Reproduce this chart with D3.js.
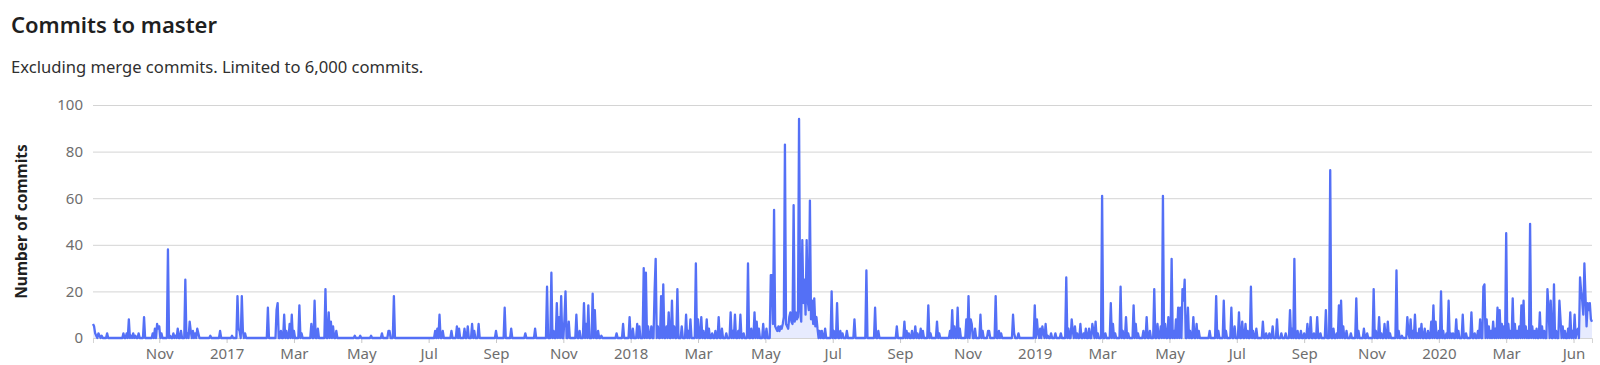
<!DOCTYPE html>
<html>
<head>
<meta charset="utf-8">
<script src="https://cdn.jsdelivr.net/npm/d3@7"></script>
<style>
  body { margin: 0; background: #fff; }
  svg { display: block; font-family: "Noto Sans", "Open Sans", sans-serif; }
</style>
</head>
<body>
<svg id="chart"></svg>
<script>
// daily commit counts; days not listed had no commits
const commits2016 = [
  ['2016-09-07',6],['2016-09-08',5],['2016-09-09',2],['2016-09-10',1],['2016-09-12',2],['2016-09-13',1],['2016-09-15',1],
  ['2016-09-20',2],['2016-10-05',2],['2016-10-08',2],['2016-10-10',8],['2016-10-12',1],['2016-10-14',2],['2016-10-16',1],
  ['2016-10-19',2],['2016-10-24',9],['2016-11-01',2],['2016-11-03',4],['2016-11-05',6],['2016-11-06',4],['2016-11-07',5],
  ['2016-11-09',2],['2016-11-15',38],['2016-11-17',1],['2016-11-20',2],['2016-11-22',1],['2016-11-24',4],['2016-11-27',3],
  ['2016-12-01',25],['2016-12-03',2],['2016-12-05',7],['2016-12-06',3],['2016-12-08',3],['2016-12-10',2],['2016-12-12',4],
  ['2016-12-13',2],['2016-12-24',1]
];
const commits2017 = [
  ['2017-01-02',3],['2017-01-13',1],['2017-01-18',18],['2017-01-19',4],['2017-01-20',3],['2017-01-22',18],['2017-01-23',3],
  ['2017-01-25',2],['2017-02-15',13],['2017-02-23',12],['2017-02-24',15],['2017-02-27',3],['2017-03-02',10],['2017-03-04',3],
  ['2017-03-07',6],['2017-03-09',10],['2017-03-11',3],['2017-03-16',14],['2017-03-18',2],['2017-03-27',6],['2017-03-30',16],
  ['2017-04-02',4],['2017-04-09',21],['2017-04-12',11],['2017-04-14',7],['2017-04-16',5],['2017-04-19',3],['2017-05-06',1],
  ['2017-05-11',1],['2017-05-21',1],['2017-05-31',2],['2017-06-06',3],['2017-06-07',3],['2017-06-11',18],['2017-07-19',3],
  ['2017-07-21',4],['2017-07-23',10],['2017-07-26',3],['2017-08-03',3],['2017-08-08',5],['2017-08-10',4],['2017-08-15',4],
  ['2017-08-18',5],['2017-08-22',6],['2017-08-24',3],['2017-08-28',6],['2017-09-13',3],['2017-09-21',13],['2017-09-27',4],
  ['2017-10-10',2],['2017-10-19',4],['2017-10-30',22],['2017-11-03',28],['2017-11-05',3],['2017-11-08',15],['2017-11-10',9],
  ['2017-11-12',18],['2017-11-15',8],['2017-11-16',20],['2017-11-19',7],['2017-11-26',10],['2017-11-29',3],['2017-12-03',15],
  ['2017-12-05',6],['2017-12-07',14],['2017-12-11',19],['2017-12-13',12],['2017-12-16',3],['2017-12-19',1]
];
const commits2018 = [
  ['2018-01-02',2],['2018-01-08',6],['2018-01-14',9],['2018-01-17',4],['2018-01-21',6],['2018-01-23',5],['2018-01-27',30],
  ['2018-01-29',28],['2018-01-31',5],['2018-02-03',5],['2018-02-06',20],['2018-02-07',34],['2018-02-09',5],['2018-02-12',18],
  ['2018-02-14',23],['2018-02-17',5],['2018-02-19',11],['2018-02-22',16],['2018-02-24',5],['2018-02-27',21],['2018-03-03',5],
  ['2018-03-07',10],['2018-03-09',3],['2018-03-11',8],['2018-03-16',32],['2018-03-18',8],['2018-03-21',9],['2018-03-23',3],
  ['2018-03-26',8],['2018-03-28',4],['2018-03-31',2],['2018-04-03',3],['2018-04-06',9],['2018-04-09',4],['2018-04-13',2],
  ['2018-04-17',11],['2018-04-19',3],['2018-04-21',10],['2018-04-24',3],['2018-04-26',10],['2018-04-29',2],['2018-05-03',32],
  ['2018-05-06',4],['2018-05-09',11],['2018-05-11',7],['2018-05-13',4],['2018-05-17',6],['2018-05-20',4],['2018-05-24',27],
  ['2018-05-25',27],['2018-05-26',6],['2018-05-27',55],['2018-05-28',5],['2018-05-29',4],['2018-05-30',3],['2018-05-31',5],
  ['2018-06-01',3],['2018-06-02',5],['2018-06-03',4],['2018-06-04',6],['2018-06-05',9],['2018-06-06',83],['2018-06-07',6],
  ['2018-06-08',5],['2018-06-09',4],['2018-06-10',9],['2018-06-11',11],['2018-06-12',7],['2018-06-13',6],['2018-06-14',57],
  ['2018-06-15',7],['2018-06-16',11],['2018-06-17',8],['2018-06-18',9],['2018-06-19',94],['2018-06-20',12],['2018-06-21',7],
  ['2018-06-22',42],['2018-06-23',15],['2018-06-24',25],['2018-06-25',10],['2018-06-26',42],['2018-06-27',16],['2018-06-28',12],
  ['2018-06-29',59],['2018-06-30',8],['2018-07-01',16],['2018-07-02',6],['2018-07-03',17],['2018-07-04',5],['2018-07-05',9],
  ['2018-07-06',4],['2018-07-08',3],['2018-07-10',3],['2018-07-13',4],['2018-07-19',20],['2018-07-21',3],['2018-07-24',15],
  ['2018-07-27',3],['2018-07-29',2],['2018-08-02',3],['2018-08-09',8],['2018-08-20',29],['2018-08-28',13],['2018-08-31',3],
  ['2018-09-17',5],['2018-09-24',7],['2018-09-26',3],['2018-09-28',2],['2018-10-01',3],['2018-10-04',5],['2018-10-06',2],
  ['2018-10-09',4],['2018-10-11',3],['2018-10-16',14],['2018-10-18',2],['2018-10-24',7],['2018-10-26',2],['2018-11-05',3],
  ['2018-11-07',12],['2018-11-09',5],['2018-11-12',13],['2018-11-14',4],['2018-11-20',8],['2018-11-22',18],['2018-11-24',8],
  ['2018-11-25',6],['2018-11-28',4],['2018-12-03',10],['2018-12-05',3],['2018-12-10',3],['2018-12-11',3],['2018-12-17',18],
  ['2018-12-20',3],['2018-12-22',2]
];
const commits2019 = [
  ['2019-01-02',10],['2019-01-03',2],['2019-01-07',2],['2019-01-22',14],['2019-01-24',8],['2019-01-25',2],['2019-01-27',4],
  ['2019-01-29',5],['2019-01-30',2],['2019-02-01',6],['2019-02-03',1],['2019-02-06',2],['2019-02-10',2],['2019-02-15',2],
  ['2019-02-20',26],['2019-02-22',4],['2019-02-25',8],['2019-02-26',3],['2019-02-28',5],['2019-03-02',2],['2019-03-05',6],
  ['2019-03-08',2],['2019-03-10',4],['2019-03-13',4],['2019-03-16',6],['2019-03-17',3],['2019-03-19',7],['2019-03-21',2],
  ['2019-03-25',61],['2019-03-28',2],['2019-04-02',15],['2019-04-04',6],['2019-04-06',2],['2019-04-11',22],['2019-04-13',3],
  ['2019-04-16',9],['2019-04-18',2],['2019-04-23',14],['2019-04-25',6],['2019-04-27',2],['2019-05-02',3],['2019-05-05',9],
  ['2019-05-08',3],['2019-05-12',21],['2019-05-15',6],['2019-05-18',5],['2019-05-20',61],['2019-05-22',6],['2019-05-25',9],
  ['2019-05-28',34],['2019-05-30',3],['2019-06-01',8],['2019-06-03',13],['2019-06-05',13],['2019-06-07',21],['2019-06-08',16],
  ['2019-06-09',25],['2019-06-12',13],['2019-06-14',3],['2019-06-17',9],['2019-06-20',6],['2019-06-22',3],['2019-07-02',3],
  ['2019-07-08',18],['2019-07-10',3],['2019-07-15',16],['2019-07-17',3],['2019-07-22',13],['2019-07-25',5],['2019-07-29',11],
  ['2019-08-01',7],['2019-08-04',6],['2019-08-06',3],['2019-08-09',22],['2019-08-11',3],['2019-08-14',4],['2019-08-20',7],
  ['2019-08-23',2],['2019-08-26',2],['2019-08-29',5],['2019-09-02',8],['2019-09-06',2],['2019-09-10',2],['2019-09-14',12],
  ['2019-09-16',4],['2019-09-18',34],['2019-09-21',3],['2019-09-24',3],['2019-09-27',2],['2019-09-30',6],['2019-10-03',9],
  ['2019-10-06',2],['2019-10-09',9],['2019-10-12',2],['2019-10-17',12],['2019-10-21',72],['2019-10-24',4],['2019-10-27',2],
  ['2019-10-29',14],['2019-10-31',16],['2019-11-02',5],['2019-11-05',3],['2019-11-09',2],['2019-11-14',17],['2019-11-16',3],
  ['2019-11-21',4],['2019-11-24',2],['2019-11-30',21],['2019-12-02',3],['2019-12-05',9],['2019-12-07',2],['2019-12-10',6],
  ['2019-12-13',7],['2019-12-15',2],['2019-12-21',29],['2019-12-23',3],['2019-12-26',1],['2019-12-31',9]
];
const commits2020 = [
  ['2020-01-01',2],['2020-01-03',8],['2020-01-05',3],['2020-01-07',10],['2020-01-09',2],['2020-01-11',4],['2020-01-13',6],
  ['2020-01-16',4],['2020-01-19',3],['2020-01-22',7],['2020-01-24',14],['2020-01-26',7],['2020-01-29',3],['2020-01-31',20],
  ['2020-02-02',3],['2020-02-05',2],['2020-02-07',16],['2020-02-09',2],['2020-02-11',2],['2020-02-14',8],['2020-02-16',3],
  ['2020-02-20',10],['2020-02-23',2],['2020-02-28',11],['2020-03-02',2],['2020-03-05',3],['2020-03-07',8],['2020-03-10',22],
  ['2020-03-11',23],['2020-03-13',8],['2020-03-15',5],['2020-03-17',3],['2020-03-19',7],['2020-03-21',4],['2020-03-23',13],
  ['2020-03-25',12],['2020-03-27',6],['2020-03-29',5],['2020-03-31',45],['2020-04-02',6],['2020-04-04',3],['2020-04-06',17],
  ['2020-04-08',6],['2020-04-10',3],['2020-04-12',5],['2020-04-14',14],['2020-04-16',16],['2020-04-18',5],['2020-04-20',3],
  ['2020-04-22',49],['2020-04-24',5],['2020-04-26',3],['2020-04-28',4],['2020-05-01',11],['2020-05-03',5],['2020-05-05',3],
  ['2020-05-08',21],['2020-05-09',13],['2020-05-11',16],['2020-05-14',23],['2020-05-16',3],['2020-05-19',16],['2020-05-20',8],
  ['2020-05-22',5],['2020-05-24',3],['2020-05-27',4],['2020-05-29',11],['2020-05-31',3],['2020-06-02',10],['2020-06-04',3],
  ['2020-06-05',4],['2020-06-07',26],['2020-06-08',20],['2020-06-09',16],['2020-06-10',10],['2020-06-11',32],['2020-06-12',18],
  ['2020-06-13',5],['2020-06-14',15],['2020-06-15',12],['2020-06-16',15],['2020-06-17',8],['2020-06-18',7]
];

const firstDay = '2016-09-07';
const lastDay = '2020-06-18';

// axis ticks as the chart shows them (about every 62 days)
const tickDays = ['2016-11-07','2017-01-08','2017-03-11','2017-05-12','2017-07-13','2017-09-13','2017-11-14',
  '2018-01-15','2018-03-18','2018-05-19','2018-07-20','2018-09-20','2018-11-21','2019-01-22','2019-03-25',
  '2019-05-26','2019-07-27','2019-09-27','2019-11-28','2020-01-29','2020-03-31','2020-06-01'];
const tickLabels = ['Nov','2017','Mar','May','Jul','Sep','Nov','2018','Mar','May','Jul','Sep','Nov','2019',
  'Mar','May','Jul','Sep','Nov','2020','Mar','Jun'];
const yTicks = [0, 20, 40, 60, 80, 100];

class CommitsChart {
    constructor(_config, _data){
        this.config = {
            parentElement: _config.parentElement,
            containerWidth: _config.containerWidth || 1600,
            containerHeight: _config.containerHeight || 365,
            margin: { top: 105, right: 8, left: 93, bottom: 27 }
        }
        this.data = _data;
        this.initVis();
    }

    initVis(){
        let vis = this;

        vis.width = vis.config.containerWidth - vis.config.margin.left - vis.config.margin.right;
        vis.height = vis.config.containerHeight - vis.config.margin.top - vis.config.margin.bottom;

        vis.svg = d3.select(vis.config.parentElement)
            .attr('width', vis.config.containerWidth)
            .attr('height', vis.config.containerHeight);

        // heading
        vis.svg.append('text')
            .attr('x', 11).attr('y', 33)
            .attr('font-size', 22).attr('font-weight', 600)
            .attr('fill', '#1f1f1f')
            .text('Commits to master');

        vis.svg.append('text')
            .attr('x', 11).attr('y', 73)
            .attr('font-size', 16.6)
            .attr('fill', '#303030')
            .text('Excluding merge commits. Limited to 6,000 commits.');

        vis.chart = vis.svg.append('g')
            .attr('transform', `translate(${vis.config.margin.left}, ${vis.config.margin.top})`);

        const parseDay = d3.timeParse('%Y-%m-%d');

        vis.xScale = d3.scaleTime()
            .domain([parseDay(firstDay), parseDay(lastDay)])
            .range([0, vis.width]);

        vis.yScale = d3.scaleLinear()
            .domain([0, 100])
            .range([vis.height, 0]);

        // gridlines + y labels
        vis.yAxisGroup = vis.chart.append('g')
            .attr('class', 'axis y-axis')
            .call(d3.axisLeft(vis.yScale).tickValues(yTicks).tickSize(-vis.width).tickPadding(10));
        vis.yAxisGroup.select('.domain').remove();
        vis.yAxisGroup.selectAll('.tick line').attr('stroke', '#d4d4d4');
        vis.yAxisGroup.selectAll('.tick text')
            .attr('font-size', 15).attr('fill', '#6e6e6e')
            .attr('font-family', '"Noto Sans", sans-serif');

        // x axis with the chart's own tick labels
        const tickDates = tickDays.map(parseDay);
        vis.xAxisGroup = vis.chart.append('g')
            .attr('class', 'axis x-axis')
            .attr('transform', `translate(0, ${vis.height})`)
            .call(d3.axisBottom(vis.xScale)
                .tickValues(tickDates)
                .tickSize(5)
                .tickPadding(5)
                .tickFormat((d, i) => tickLabels[i]));
        vis.xAxisGroup.select('.domain').attr('stroke', '#d4d4d4');
        vis.xAxisGroup.selectAll('.tick line').attr('stroke', '#c8c8c8');
        vis.xAxisGroup.selectAll('.tick text')
            .attr('font-size', 15).attr('fill', '#6e6e6e')
            .attr('font-family', '"Noto Sans", sans-serif');

        // y axis title
        vis.svg.append('text')
            .attr('transform', `translate(27, ${vis.config.margin.top + vis.height / 2}) rotate(-90)`)
            .attr('text-anchor', 'middle')
            .attr('font-size', 15.5).attr('font-weight', 700)
            .attr('fill', '#1f1f1f')
            .text('Number of commits');

        // one point per day, zero where no commits were made
        const counts = new Map(vis.data.map(d => [d[0], d[1]]));
        const fmt = d3.timeFormat('%Y-%m-%d');
        vis.series = d3.timeDay.range(parseDay(firstDay), d3.timeDay.offset(parseDay(lastDay), 1))
            .map(day => ({ date: day, count: counts.get(fmt(day)) || 0 }));

        const area = d3.area()
            .x(d => vis.xScale(d.date))
            .y0(vis.yScale(0))
            .y1(d => vis.yScale(d.count));

        const line = d3.line()
            .x(d => vis.xScale(d.date))
            .y(d => vis.yScale(d.count));

        vis.chart.append('path')
            .datum(vis.series)
            .attr('fill', '#5470f6')
            .attr('fill-opacity', 0.14)
            .attr('d', area);

        vis.chart.append('path')
            .datum(vis.series)
            .attr('fill', 'none')
            .attr('stroke', '#5470f6')
            .attr('stroke-width', 2.3)
            .attr('stroke-linejoin', 'round')
            .attr('d', line);
    }
}

const allCommits = [].concat(commits2016, commits2017, commits2018, commits2019, commits2020);
new CommitsChart({ parentElement: '#chart' }, allCommits);
</script>
</body>
</html>
